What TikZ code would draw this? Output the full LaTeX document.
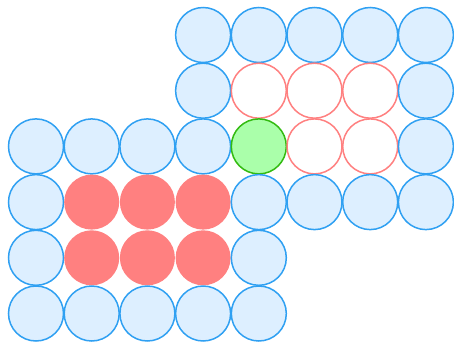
\documentclass[tikz,border=0pt]{standalone}
\definecolor{bstroke}{HTML}{2FA0F2}
\definecolor{bfill}{HTML}{DDEFFF}
\definecolor{rcol}{HTML}{FF8080}
\definecolor{gfill}{HTML}{AAFFAA}
\definecolor{gstroke}{HTML}{33BB11}
\tikzset{
  cell/.style={circle, minimum size=55pt, inner sep=0pt, line width=1.5pt},
  bluecell/.style={cell, draw=bstroke, fill=bfill},
  redfill/.style={cell, fill=rcol},
  redring/.style={cell, draw=rcol, fill=white},
  greencell/.style={cell, draw=gstroke, fill=gfill},
}
\begin{document}
\begin{tikzpicture}[x=1pt,y=-1pt]
\useasboundingbox (0,0) rectangle (454,342);
\newcommand{\cellat}[3]{\node[#3] (c-#1-#2) at ({36+55.7*#1},{35+55.7*#2}) {};}
% row 0
\foreach \i in {3,...,7} {\cellat{\i}{0}{bluecell}}
% row 1
\cellat{3}{1}{bluecell}
\foreach \i in {4,5,6} {\cellat{\i}{1}{redring}}
\cellat{7}{1}{bluecell}
% row 2
\foreach \i in {0,...,3} {\cellat{\i}{2}{bluecell}}
\cellat{4}{2}{greencell}
\foreach \i in {5,6} {\cellat{\i}{2}{redring}}
\cellat{7}{2}{bluecell}
% row 3
\cellat{0}{3}{bluecell}
\foreach \i in {1,2,3} {\cellat{\i}{3}{redfill}}
\foreach \i in {4,...,7} {\cellat{\i}{3}{bluecell}}
% row 4
\cellat{0}{4}{bluecell}
\foreach \i in {1,2,3} {\cellat{\i}{4}{redfill}}
\cellat{4}{4}{bluecell}
% row 5
\foreach \i in {0,...,4} {\cellat{\i}{5}{bluecell}}
\end{tikzpicture}
\end{document}
